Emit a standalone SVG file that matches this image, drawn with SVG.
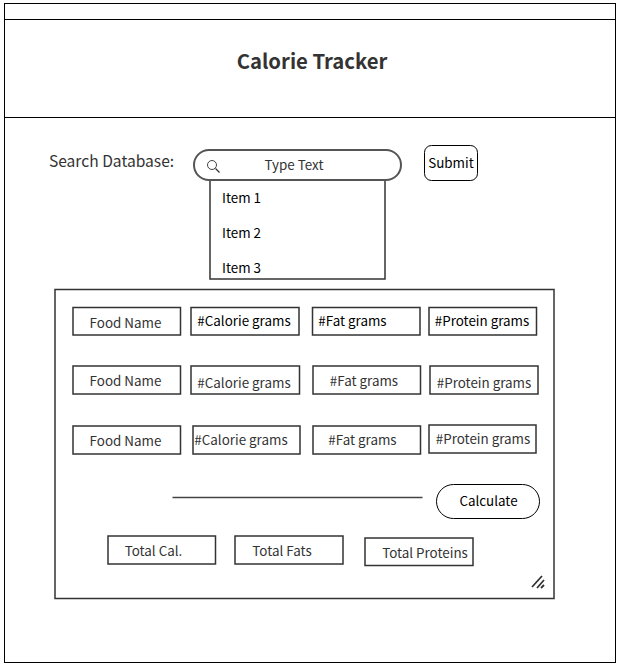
<svg xmlns="http://www.w3.org/2000/svg" width="620" height="666" viewBox="0 0 620 666">
<style>
text{font-family:"Noto Sans CJK SC","Noto Sans",sans-serif;font-size:13.400px;fill:#333;text-anchor:middle}
.k{fill:#000}
.f{fill:none;stroke:#000;stroke-width:1}
.b{fill:#fff;stroke:#333;stroke-width:1.500}
.g{fill:#fff;stroke:#555;stroke-width:2}
</style>
<rect width="620" height="666" fill="#fff"/>
<g id="frame"><rect class="f" x="4.500" y="3.500" width="611" height="659"/><path class="f" d="M4.500 19.500H615.500M4.500 117.500H615.500"/></g>
<g id="title"><text x="312" y="69" style="font-size:20.300px;font-weight:700">Calorie Tracker</text></g>
<g id="search-label"><text x="111.500" y="167" style="font-size:15.600px">Search Database:</text></g>
<g id="dropdown"><rect class="b" x="210" y="180" width="175" height="99"/>
<text x="222" y="203" style="text-anchor:start" class="k">Item 1</text><text x="222" y="238" style="text-anchor:start" class="k">Item 2</text><text x="222" y="273" style="text-anchor:start" class="k">Item 3</text></g>
<g id="search"><rect class="g" x="194" y="150" width="207" height="30" rx="15"/><circle cx="212" cy="165" r="4.500" fill="none" stroke="#444"/><path d="M215.500 168.500L219.500 172.500" stroke="#333" stroke-width="1.300"/><text x="294" y="170">Type Text</text></g>
<g id="submit"><rect class="f" x="424.500" y="145.500" width="53" height="35" rx="7"/><text x="451" y="168" class="k">Submit</text></g>
<g id="panel"><rect class="b" x="55" y="289.500" width="499" height="309"/><path d="M532 587L542 576M537 588L544 580M541 588L544 585" stroke="#333" stroke-width="1.800" fill="none"/></g>
<g id="r1"><rect class="b" x="73" y="307.500" width="107.500" height="27.500"/><text x="125.500" y="328">Food Name</text></g>
<g id="r2"><rect class="b" x="191" y="307.500" width="108" height="27.500"/><text x="244" y="326" class="k">#Calorie grams</text></g>
<g id="r3"><rect class="b" x="312.500" y="307.500" width="107.500" height="27.500"/><text x="352.500" y="326" class="k">#Fat grams</text></g>
<g id="r4"><rect class="b" x="429" y="307.500" width="107.500" height="27.500"/><text x="482" y="326" class="k">#Protein grams</text></g>
<g id="r5"><rect class="b" x="73" y="366" width="107.500" height="28"/><text x="125.500" y="386">Food Name</text></g>
<g id="r6"><rect class="b" x="191" y="366" width="108.500" height="28"/><text x="244" y="388">#Calorie grams</text></g>
<g id="r7"><rect class="b" x="313" y="366" width="107.500" height="28"/><text x="364" y="386">#Fat grams</text></g>
<g id="r8"><rect class="b" x="430" y="366" width="108" height="28"/><text x="484" y="388">#Protein grams</text></g>
<g id="r9"><rect class="b" x="73" y="426" width="107.500" height="28"/><text x="125.500" y="446">Food Name</text></g>
<g id="r10"><rect class="b" x="193" y="426" width="107" height="28"/><text x="241" y="445">#Calorie grams</text></g>
<g id="r11"><rect class="b" x="313" y="426" width="107.500" height="28"/><text x="362.500" y="445">#Fat grams</text></g>
<g id="r12"><rect class="b" x="429" y="425" width="107" height="28"/><text x="483" y="444">#Protein grams</text></g>
<g id="connectors"><path d="M172.500 497.500H422.500" stroke="#444" stroke-width="1.500"/></g>
<g id="calculate"><rect class="f" x="436.500" y="484.500" width="103" height="34" rx="17"/><text x="488.500" y="506" class="k">Calculate</text></g>
<g id="t1"><rect class="b" x="108" y="536" width="107.500" height="28"/><text x="153.500" y="556">Total Cal.</text></g>
<g id="t2"><rect class="b" x="235" y="536" width="108" height="28"/><text x="282" y="556">Total Fats</text></g>
<g id="t3"><rect class="b" x="365" y="538" width="108" height="27.500"/><text x="425" y="558">Total Proteins</text></g>
</svg>
